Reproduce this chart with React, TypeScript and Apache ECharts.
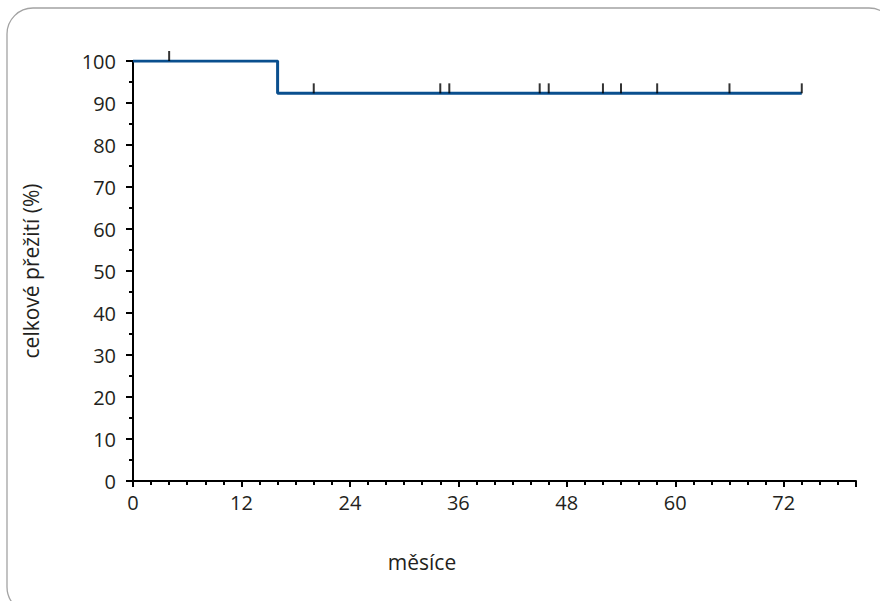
import React, { useEffect, useRef } from "react";
import * as echarts from "echarts";

const stepTimes = [0, 16, 74];
const stepSurvival = [100, 92.3, 92.3];
const censorTimes = [4, 20, 34, 35, 45, 46, 52, 54, 58, 66, 74];
const censorSurvival = [100, 92.3, 92.3, 92.3, 92.3, 92.3, 92.3, 92.3, 92.3, 92.3, 92.3];
const xTicks = [0, 12, 24, 36, 48, 60, 72];
const yTicks = [0, 10, 20, 30, 40, 50, 60, 70, 80, 90, 100];
const xAxisTitle = "měsíce";
const yAxisTitle = "celkové přežití (%)";

const FONT = "'Open Sans', 'Noto Sans', sans-serif";
const TXT = "#231f20";
const FS = 20;

export default function App() {
  const ref = useRef<HTMLDivElement>(null);
  useEffect(() => {
    if (!ref.current) return;
    const chart = echarts.init(ref.current, undefined, { renderer: "svg" });
    const axisLine = { show: true, lineStyle: { color: "#000", width: 2 } };
    chart.setOption({
      animation: false,
      backgroundColor: "#fff",
      graphic: [
        {
          type: "rect",
          shape: { x: 7, y: 8, width: 888, height: 605, r: 26 },
          style: { fill: "none", stroke: "#a3a3a3", lineWidth: 1.3 },
          silent: true,
        },
        {
          type: "text",
          x: 422,
          y: 562,
          style: {
            text: xAxisTitle,
            fontFamily: FONT,
            fontSize: 21,
            fill: TXT,
            align: "center",
            verticalAlign: "middle",
          },
          silent: true,
        },
      ],
      grid: { left: 133, top: 61, right: 24, bottom: 120, containLabel: false },
      xAxis: {
        type: "value",
        min: 0,
        max: 80,
        interval: 12,
        axisLine,
        axisTick: { show: true, length: 6, lineStyle: { color: "#000", width: 2 } },
        minorTick: { show: true, splitNumber: 6, length: 4, lineStyle: { color: "#000", width: 2 } },
        axisLabel: {
          fontFamily: FONT,
          fontSize: FS,
          color: TXT,
          margin: 11,
          formatter: (v: number) => (xTicks.includes(v) ? String(v) : ""),
        },
        splitLine: { show: false },
      },
      yAxis: {
        type: "value",
        min: 0,
        max: 100,
        interval: 10,
        name: yAxisTitle,
        nameLocation: "middle",
        nameGap: 92,
        nameRotate: 90,
        nameTextStyle: { fontFamily: FONT, fontSize: 21, color: TXT },
        axisLine,
        axisTick: { show: true, length: 7, lineStyle: { color: "#000", width: 2 } },
        minorTick: { show: true, splitNumber: 2, length: 4, lineStyle: { color: "#000", width: 2 } },
        axisLabel: {
          fontFamily: FONT,
          fontSize: FS,
          color: TXT,
          margin: 17,
          formatter: (v: number) => (yTicks.includes(v) ? String(v) : ""),
        },
        splitLine: { show: false },
      },
      series: [
        {
          type: "line",
          step: "end",
          data: stepTimes.map((t, i) => [t, stepSurvival[i]]),
          showSymbol: false,
          lineStyle: { color: "#0a4f8e", width: 3 },
          z: 3,
        },
        {
          type: "scatter",
          data: censorTimes.map((t, i) => [t, censorSurvival[i]]),
          symbol: "rect",
          symbolSize: [2, 10],
          symbolOffset: [0, -5],
          itemStyle: { color: "#000" },
          z: 4,
        },
      ],
    });
    return () => chart.dispose();
  }, []);
  return <div ref={ref} style={{ width: 880, height: 601, position: "absolute", left: 0, top: 0 }} />;
}
